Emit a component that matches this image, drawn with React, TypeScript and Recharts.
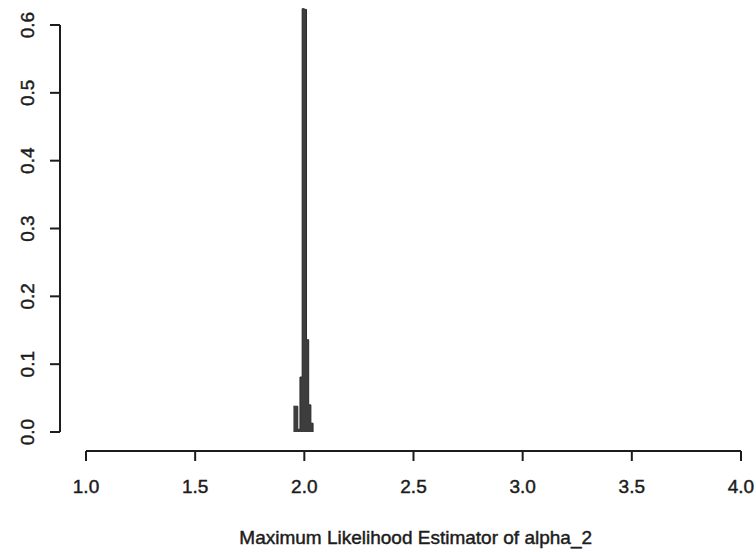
import React from "react";
import { ComposedChart, Area, XAxis, YAxis, ReferenceLine, Label } from "recharts";

// histogram of the estimator, bins of width 0.01 (left edges), last edge closes the area
const binEdges = [1.95, 1.96, 1.97, 1.98, 1.99, 2.0, 2.01, 2.02, 2.03, 2.04];
const binHeights = [0.038, 0.038, 0.004, 0.081, 0.624, 0.623, 0.136, 0.04, 0.013, 0];

const xTicks = [1.0, 1.5, 2.0, 2.5, 3.0, 3.5, 4.0];
const yTicks = [0, 0.1, 0.2, 0.3, 0.4, 0.5, 0.6];
const xTitle = "Maximum Likelihood Estimator of alpha_2";

const X_DOMAIN = [0.8809, 4.0092];
const Y_DOMAIN = [-0.028, 0.6295];

const INK = "#1c1c1c";
const FONT = "'Liberation Sans', Arial, Helvetica, sans-serif";
// the printed text is a bit heavier than a plain regular weight
const textInk = { fill: INK, stroke: INK, strokeWidth: 0.45 };

const histData = binEdges.map((x, i) => ({ x, p: binHeights[i] }));

function YTick(props: any) {
  const { x, y, payload } = props;
  return (
    <text
      x={x}
      y={y}
      transform={`rotate(-90 ${x} ${y})`}
      textAnchor="middle"
      fontSize={19}
      fontFamily={FONT}
      {...textInk}
    >
      {Number(payload.value).toFixed(1)}
    </text>
  );
}

function AxisTitle(props: any) {
  const vb = props.viewBox || { x: 60, y: 451, width: 683, height: 101 };
  // centred on the middle of the plotting region, like R does
  const cx = vb.x + ((2.51 - X_DOMAIN[0]) / (X_DOMAIN[1] - X_DOMAIN[0])) * vb.width;
  return (
    <text x={cx} y={vb.y + vb.height - 8.5} textAnchor="middle" fontSize={19} fontFamily={FONT} {...textInk}>
      {xTitle}
    </text>
  );
}

export default function App() {
  return (
    <div style={{ position: "absolute", left: 0, top: 0, background: "white" }}>
      <ComposedChart width={756} height={552} data={histData} margin={{ top: 5, right: 13, bottom: 0, left: 0 }}>
        <XAxis
          dataKey="x"
          type="number"
          domain={X_DOMAIN}
          allowDataOverflow
          ticks={xTicks}
          interval={0}
          tickSize={10}
          tickMargin={19}
          axisLine={false}
          tickLine={{ stroke: INK, strokeWidth: 2 }}
          height={101}
          tick={{ fontSize: 19, fontFamily: FONT, ...textInk }}
          tickFormatter={(v: number) => v.toFixed(1)}
        >
          <Label content={AxisTitle} />
        </XAxis>
        <YAxis
          type="number"
          domain={Y_DOMAIN}
          allowDataOverflow
          ticks={yTicks}
          interval={0}
          width={60}
          tickSize={10}
          tickMargin={16}
          axisLine={false}
          tickLine={{ stroke: INK, strokeWidth: 2 }}
          tick={<YTick />}
        />
        <ReferenceLine
          segment={[{ x: 1, y: Y_DOMAIN[0] }, { x: 4, y: Y_DOMAIN[0] }]}
          stroke={INK}
          strokeWidth={2}
          ifOverflow="visible"
        />
        <ReferenceLine
          segment={[{ x: X_DOMAIN[0], y: 0 }, { x: X_DOMAIN[0], y: 0.6 }]}
          stroke={INK}
          strokeWidth={2}
          ifOverflow="visible"
        />
        <Area
          dataKey="p"
          type="stepAfter"
          fill="#3d3d3d"
          fillOpacity={1}
          stroke="#2a2a2a"
          strokeWidth={1}
          dot={false}
          activeDot={false}
          isAnimationActive={false}
        />
      </ComposedChart>
    </div>
  );
}
